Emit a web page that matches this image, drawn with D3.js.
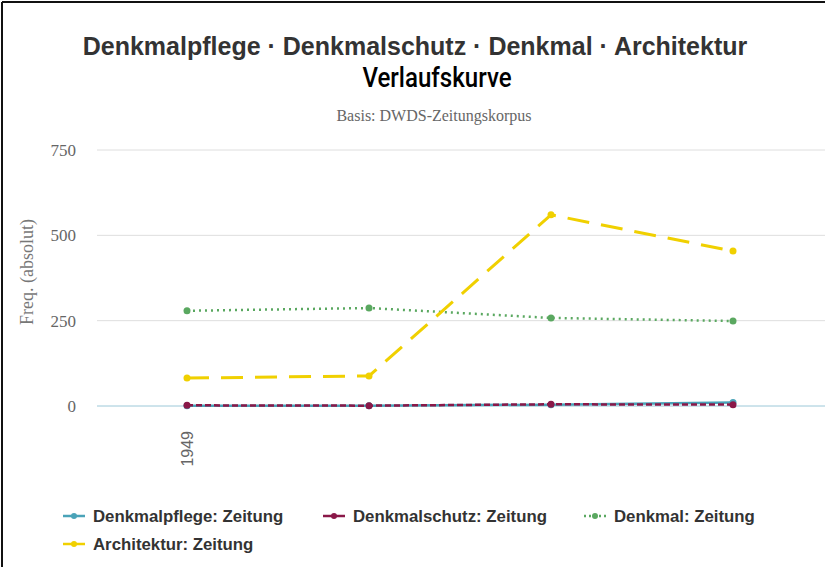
<!DOCTYPE html>
<html lang="de">
<head>
<meta charset="UTF-8"/>
<title>Verlaufskurve</title>
<script src="https://d3js.org/d3.v7.min.js"></script>
<style>
	body { margin: 0; background: #fff; }
	svg { display: block; }
</style>
</head>
<body>
<script>

	var w = 825;
	var h = 567;

	// data
	var years = ["1949", "1950", "1951", "1952"];
	var tickLabels = ["1949", "", "", ""];
	var yTicks = [0, 250, 500, 750];
	var seriesNames = ["Denkmalpflege: Zeitung", "Denkmalschutz: Zeitung", "Denkmal: Zeitung", "Architektur: Zeitung"];
	var denkmalpflege = [1, 1, 4, 10];
	var denkmalschutz = [2, 1, 5, 4];
	var denkmal = [279, 287, 258, 249];
	var architektur = [82, 88, 560, 454];

	var colors = ["#4aa3b8", "#8a1848", "#5aa860", "#f0d000"];
	var dashes = ["none", "6,3", "2,4", "22,12"];
	var allSeries = [denkmalpflege, denkmalschutz, denkmal, architektur];

	var svg = d3.select("body")
				.append("svg")
				.attr("width", w)
				.attr("height", h);

	// frame edges
	svg.append("line").attr("x1", 2).attr("y1", 2).attr("x2", w).attr("y2", 2)
		.attr("stroke", "#111").attr("stroke-width", 2);
	svg.append("line").attr("x1", 2).attr("y1", 2).attr("x2", 2).attr("y2", h)
		.attr("stroke", "#111").attr("stroke-width", 2);

	//titles
	svg.append("text")
		.attr("x", 415).attr("y", 55)
		.attr("text-anchor", "middle")
		.attr("font-family", "Liberation Sans, Arial, sans-serif")
		.attr("font-weight", "bold")
		.attr("font-size", 25)
		.attr("fill", "#333")
		.text("Denkmalpflege · Denkmalschutz · Denkmal · Architektur");

	svg.append("text")
		.attr("transform", "translate(437,87) scale(0.86,1)")
		.attr("text-anchor", "middle")
		.attr("font-family", "Roboto, sans-serif")
		.attr("font-weight", 500)
		.attr("font-size", 28)
		.attr("fill", "#000")
		.text("Verlaufskurve");

	svg.append("text")
		.attr("x", 434).attr("y", 121)
		.attr("text-anchor", "middle")
		.attr("font-family", "Liberation Serif, serif")
		.attr("font-size", 16)
		.attr("fill", "#666")
		.text("Basis: DWDS-Zeitungskorpus");

	//scales
	var xScale = d3.scalePoint()
					.domain(years)
					.range([187, 733]);

	var yScale = d3.scaleLinear()
					.domain([0, 750])
					.range([406, 150]);

	//grid
	svg.selectAll(".grid")
		.data(yTicks)
		.enter()
		.append("line")
		.attr("x1", 97)
		.attr("x2", w)
		.attr("y1", function(d){ return yScale(d); })
		.attr("y2", function(d){ return yScale(d); })
		.attr("stroke", function(d){ return d == 0 ? "#9cc8d8" : "#dedede"; })
		.attr("stroke-width", 1);

	//y axis
	var yAxis = d3.axisLeft(yScale).tickValues(yTicks).tickSize(0).tickPadding(0);
	var gy = svg.append("g")
		.attr("transform", "translate(76,0)")
		.call(yAxis);
	gy.select(".domain").remove();
	gy.selectAll("text")
		.attr("font-family", "Liberation Serif, serif")
		.attr("font-size", 17)
		.attr("fill", "#666");

	svg.append("text")
		.attr("transform", "translate(33,272) rotate(-90)")
		.attr("text-anchor", "middle")
		.attr("font-family", "Liberation Serif, serif")
		.attr("font-size", 18)
		.attr("fill", "#777")
		.text("Freq. (absolut)");

	//x axis
	var xAxis = d3.axisBottom(xScale).tickSize(0).tickFormat(function(d, i){ return tickLabels[i]; });
	var gx = svg.append("g")
		.attr("transform", "translate(0,427)")
		.call(xAxis);
	gx.select(".domain").remove();
	gx.selectAll("text")
		.attr("transform", "rotate(-90)")
		.attr("text-anchor", "end")
		.attr("x", -4)
		.attr("y", 0)
		.attr("dy", "0.35em")
		.attr("font-family", "Liberation Sans, Arial, sans-serif")
		.attr("font-size", 16)
		.attr("fill", "#666");

	//lines
	var line = d3.line()
		.x(function(d, i){ return xScale(years[i]); })
		.y(function(d){ return yScale(d); });

	var order = [2, 3, 0, 1];
	order.forEach(function(s){
		svg.append("path")
			.attr("d", line(allSeries[s]))
			.attr("fill", "none")
			.attr("stroke", colors[s])
			.attr("stroke-width", s == 3 ? 3 : 2.5)
			.attr("stroke-dasharray", dashes[s]);

		svg.selectAll(".pt" + s)
			.data(allSeries[s])
			.enter()
			.append("circle")
			.attr("cx", function(d, i){ return xScale(years[i]); })
			.attr("cy", function(d){ return yScale(d); })
			.attr("r", 3.5)
			.attr("fill", colors[s]);
	});

	//legend
	var legendPos = [[63, 516], [323, 516], [584, 516], [63, 544]];
	var legend = svg.selectAll(".legend")
		.data(seriesNames)
		.enter()
		.append("g")
		.attr("transform", function(d, i){ return "translate(" + legendPos[i][0] + "," + legendPos[i][1] + ")"; });

	legend.append("line")
		.attr("x1", 0).attr("x2", 22)
		.attr("y1", 0).attr("y2", 0)
		.attr("stroke", function(d, i){ return colors[i]; })
		.attr("stroke-width", 2.5)
		.attr("stroke-dasharray", function(d, i){ return i == 2 ? "2,3" : "none"; });

	legend.append("circle")
		.attr("cx", 11).attr("cy", 0).attr("r", 3)
		.attr("fill", function(d, i){ return colors[i]; });

	legend.append("text")
		.attr("x", 30)
		.attr("y", 0)
		.attr("dy", "0.35em")
		.attr("font-family", "Liberation Sans, Arial, sans-serif")
		.attr("font-weight", "bold")
		.attr("font-size", 16.8)
		.attr("fill", "#333")
		.text(function(d){ return d; });

</script>
</body>
</html>
